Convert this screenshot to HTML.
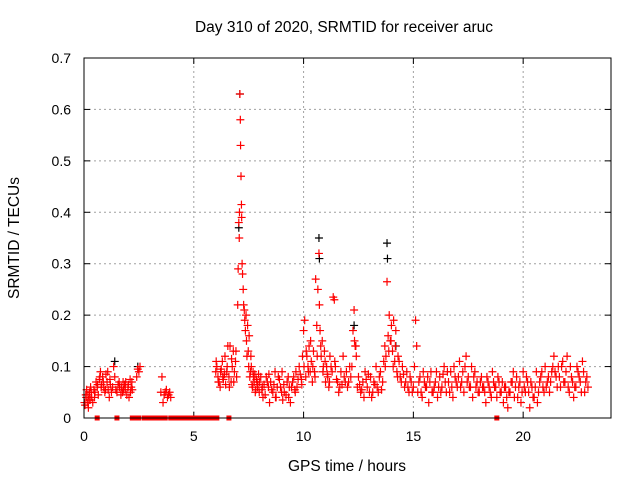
<!DOCTYPE html>
<html><head><meta charset="utf-8"><style>
body{margin:0;background:#fff;}
svg{display:block;font-family:"Liberation Sans",sans-serif;}
</style></head><body>
<svg id="chart" width="640" height="480" viewBox="0 0 640 480" xmlns="http://www.w3.org/2000/svg">
<rect width="640" height="480" fill="#fff"/>
<text x="344" y="32" font-size="15.5" text-anchor="middle">Day 310 of 2020, SRMTID for receiver aruc</text>
<text x="0" y="0" font-size="15.5" text-anchor="middle" transform="translate(19,238) rotate(-90)">SRMTID / TECUs</text>
<text x="347" y="471" font-size="15.5" text-anchor="middle">GPS time / hours</text>
<g id="grid"></g><g id="axes"></g><g id="marks"></g>
<rect x="84" y="58" width="527" height="360" fill="none" stroke="#000" stroke-width="1"/>
</svg>
<script>
const xTicks=[0,5,10,15,20];
const yTicks=[0,0.1,0.2,0.3,0.4,0.5,0.6,0.7];
const yTickLabels=["0","0.1","0.2","0.3","0.4","0.5","0.6","0.7"];
const redT=[0.02,0.05,0.1,0.12,0.15,0.18,0.2,0.25,0.28,0.3,0.35,0.4,0.45,0.5,0.55,0.6,0.65,0.7,0.75,0.8,0.85,0.9,0.95,1.0,1.05,1.1,1.15,1.2,1.3,1.35,1.4,1.45,1.5,1.55,1.6,1.7,1.75,1.8,1.85,1.9,1.95,2.0,2.05,2.1,2.15,2.2,
2.4,2.45,2.5,2.55,3.5,3.55,3.6,3.65,3.7,3.75,3.8,3.85,3.9,3.95,
6.0,6.05,6.1,6.15,6.2,6.25,6.3,6.35,6.4,6.45,6.5,6.55,6.6,6.65,6.7,6.75,6.8,6.85,6.9,6.95,
7.0,7.02,7.05,7.07,7.08,7.1,7.12,7.13,7.15,7.17,7.18,7.2,7.22,7.25,7.27,7.3,7.32,7.35,7.38,7.4,7.42,7.45,7.48,7.5,
7.55,7.6,7.65,7.7,7.75,7.8,7.85,7.9,7.95,8.0,8.1,8.15,8.2,8.3,8.4,8.45,8.5,8.6,8.7,8.75,8.8,8.9,9.0,9.05,9.1,9.2,9.3,9.35,9.4,9.5,9.6,9.65,9.7,9.8,9.9,9.95,
10.0,10.05,10.1,10.15,10.2,10.25,10.3,10.35,10.4,10.45,10.5,10.55,10.6,10.65,10.7,10.72,10.75,10.8,10.85,10.9,10.95,
11.0,11.05,11.1,11.15,11.2,11.3,11.35,11.4,11.45,11.5,11.6,11.7,11.75,11.8,11.9,12.0,12.1,12.15,
12.25,12.3,12.32,12.35,12.4,12.45,12.5,12.6,12.7,12.75,12.8,12.9,13.0,13.05,13.1,13.2,13.3,13.35,13.4,13.5,13.6,13.65,
13.7,13.75,13.8,13.85,13.9,13.95,14.0,14.05,14.1,14.15,14.2,14.25,14.3,14.4,14.5,14.6,14.7,14.8,14.9,15.0,15.05,15.1,15.15,
15.2,15.3,15.4,15.5,15.6,15.7,15.8,15.9,16.0,16.1,16.2,16.3,16.4,16.5,16.6,16.7,16.8,16.9,17.0,17.1,17.2,17.3,17.4,17.5,17.6,17.7,17.8,17.9,18.0,18.1,18.2,18.3,18.4,18.5,18.6,18.7,18.8,18.9,19.0,19.1,19.2,19.3,19.4,19.5,19.6,19.7,19.8,19.9,20.0,20.1,20.2,20.3,20.4,20.5,20.6,20.7,20.8,20.9,21.0,21.1,21.2,21.3,21.4,21.5,21.6,21.7,21.8,21.9,22.0,22.1,22.2,22.3,22.4,22.5,22.6,22.7,22.8,22.9];
const redV=[0.03,0.025,0.04,0.055,0.03,0.045,0.02,0.05,0.035,0.06,0.04,0.03,0.055,0.05,0.07,0.06,0.045,0.075,0.09,0.065,0.08,0.06,0.05,0.085,0.07,0.055,0.04,0.065,0.06,0.1,0.08,0.055,0.05,0.065,0.07,0.06,0.05,0.055,0.065,0.07,0.045,0.06,0.04,0.075,0.06,0.055,
0.08,0.095,0.09,0.1,0.05,0.08,0.03,0.045,0.05,0.055,0.04,0.045,0.05,0.04,
0.09,0.1,0.08,0.07,0.06,0.095,0.11,0.075,0.085,0.065,0.09,0.14,0.08,0.14,0.07,0.1,0.13,0.09,0.11,0.08,
0.22,0.29,0.38,0.35,0.4,0.63,0.58,0.53,0.47,0.415,0.39,0.3,0.28,0.25,0.22,0.21,0.19,0.17,0.2,0.15,0.12,0.18,0.13,0.1,
0.08,0.12,0.065,0.09,0.07,0.05,0.075,0.06,0.085,0.07,0.055,0.04,0.065,0.08,0.06,0.03,0.07,0.05,0.09,0.04,0.06,0.075,0.05,0.035,0.065,0.045,0.08,0.06,0.03,0.07,0.055,0.09,0.06,0.1,0.075,0.12,
0.17,0.19,0.08,0.12,0.1,0.14,0.09,0.11,0.07,0.13,0.09,0.27,0.18,0.25,0.32,0.22,0.17,0.12,0.15,0.1,0.13,
0.07,0.1,0.08,0.06,0.12,0.09,0.235,0.23,0.1,0.075,0.05,0.09,0.065,0.12,0.07,0.06,0.1,0.08,
0.17,0.21,0.15,0.14,0.12,0.06,0.08,0.05,0.07,0.04,0.09,0.06,0.05,0.08,0.04,0.07,0.1,0.06,0.05,0.09,0.07,0.11,
0.14,0.12,0.265,0.16,0.2,0.15,0.18,0.13,0.19,0.11,0.17,0.09,0.12,0.08,0.1,0.06,0.09,0.05,0.07,0.06,0.1,0.19,0.14,
0.05,0.08,0.04,0.07,0.06,0.03,0.09,0.05,0.07,0.04,0.08,0.06,0.1,0.05,0.07,0.09,0.04,0.08,0.06,0.11,0.07,0.05,0.12,0.08,0.06,0.04,0.09,0.07,0.05,0.08,0.06,0.03,0.07,0.05,0.09,0.06,0.04,0.07,0.05,0.03,0.06,0.02,0.05,0.07,0.04,0.08,0.06,0.03,0.09,0.05,0.07,0.02,0.06,0.04,0.09,0.05,0.08,0.06,0.1,0.07,0.05,0.09,0.12,0.08,0.1,0.06,0.11,0.07,0.12,0.05,0.08,0.04,0.06,0.09,0.07,0.11,0.05,0.08];
const red2T=[0.08,0.22,0.33,0.48,0.62,0.72,0.78,0.88,0.98,1.08,1.18,1.25,1.62,1.68,1.78,1.88,2.02,2.12,2.18,
6.02,6.12,6.22,6.32,6.42,6.52,6.62,6.72,6.82,6.92,
7.52,7.58,7.62,7.68,7.72,7.78,7.82,7.88,7.92,7.98,8.05,8.12,8.25,8.35,8.42,8.55,8.65,8.72,8.85,8.95,9.02,9.12,9.25,9.32,9.45,9.55,9.62,9.75,9.85,9.92,
10.02,10.12,10.22,10.32,10.42,10.52,10.62,10.78,10.88,10.98,11.08,11.18,11.25,11.42,11.55,11.65,11.85,11.95,12.05,12.2,12.38,12.55,12.65,12.85,12.95,13.15,13.25,13.45,13.55,
13.72,13.88,13.98,14.08,14.18,14.28,14.35,14.45,14.55,14.65,14.75,14.85,14.95,
15.25,15.35,15.45,15.55,15.65,15.75,15.85,15.95,16.05,16.15,16.25,16.35,16.45,16.55,16.65,16.75,16.85,16.95,17.05,17.15,17.25,17.35,17.45,17.55,17.65,17.75,17.85,17.95,18.05,18.15,18.25,18.35,18.45,18.55,18.65,18.75,18.85,18.95,19.05,19.15,19.25,19.35,19.45,19.55,19.65,19.75,19.85,19.95,20.05,20.15,20.25,20.35,20.45,20.55,20.65,20.75,20.85,20.95,21.05,21.15,21.25,21.35,21.45,21.55,21.65,21.75,21.85,21.95,22.05,22.15,22.25,22.35,22.45,22.55,22.65,22.75,22.85,22.95];
const red2V=[0.045,0.035,0.05,0.04,0.065,0.08,0.06,0.07,0.055,0.09,0.075,0.05,0.06,0.045,0.07,0.055,0.065,0.05,0.07,
0.11,0.07,0.09,0.08,0.12,0.1,0.06,0.115,0.07,0.13,
0.16,0.09,0.1,0.06,0.08,0.085,0.055,0.07,0.065,0.05,0.08,0.06,0.045,0.07,0.085,0.055,0.065,0.04,0.08,0.06,0.09,0.05,0.07,0.04,0.06,0.08,0.05,0.075,0.085,0.065,
0.1,0.13,0.09,0.15,0.1,0.08,0.12,0.14,0.09,0.11,0.085,0.07,0.1,0.11,0.07,0.06,0.08,0.09,0.07,0.1,0.14,0.065,0.055,0.075,0.085,0.05,0.065,0.08,0.055,
0.1,0.13,0.15,0.1,0.14,0.08,0.11,0.07,0.085,0.07,0.06,0.08,0.05,
0.07,0.05,0.09,0.06,0.08,0.07,0.05,0.06,0.09,0.06,0.05,0.085,0.07,0.09,0.05,0.06,0.1,0.07,0.08,0.06,0.09,0.1,0.07,0.06,0.1,0.08,0.06,0.05,0.07,0.06,0.05,0.08,0.06,0.04,0.07,0.06,0.08,0.05,0.07,0.06,0.04,0.05,0.07,0.09,0.06,0.04,0.07,0.05,0.06,0.08,0.05,0.07,0.04,0.06,0.03,0.07,0.09,0.05,0.06,0.08,0.07,0.1,0.09,0.06,0.08,0.1,0.07,0.09,0.06,0.1,0.07,0.06,0.1,0.08,0.05,0.09,0.07,0.06];
const blackT=[1.4,2.45,7.05,7.1,10.7,10.72,13.8,13.82,12.3,14.2];
const blackV=[0.11,0.1,0.37,0.63,0.35,0.31,0.34,0.31,0.18,0.14];
const zeroT=[0.6,1.5,2.2,2.3,2.4,2.5,2.75,2.85,2.95,3.05,3.15,3.25,3.35,3.45,3.6,3.7,3.95,4.05,4.15,4.25,4.35,4.45,4.55,4.65,4.75,4.85,4.95,5.05,5.15,5.25,5.35,5.45,5.55,5.65,5.75,5.85,5.95,6.05,6.6,18.8];

const NS="http://www.w3.org/2000/svg";
const X0=84,X1=611,Y0=418,Y1=58,XMAX=24,YMAX=0.7;
function xs(t){return X0+(t/XMAX)*(X1-X0);}
function ys(v){return Y0-(v/YMAX)*(Y0-Y1);}
function mk(tag,attrs,parent){const e=document.createElementNS(NS,tag);for(const k in attrs)e.setAttribute(k,attrs[k]);parent.appendChild(e);return e;}
const grid=document.getElementById('grid'),axes=document.getElementById('axes'),marks=document.getElementById('marks');
xTicks.forEach(t=>{
  const x=xs(t);
  if(t>0){const g=mk('line',{x1:x,y1:Y0,x2:x,y2:Y1,stroke:'#a0a0a0','stroke-dasharray':'2,3','stroke-width':1},grid);
  
  }
  mk('line',{x1:x,y1:Y0,x2:x,y2:Y0-6,stroke:'#000'},axes);
  mk('line',{x1:x,y1:Y1,x2:x,y2:Y1+6,stroke:'#000'},axes);
  const l=mk('text',{x:x,y:Y0+23,'font-size':14,'text-anchor':'middle'},axes);l.textContent=String(t);
  
  
});
yTicks.forEach((v,i)=>{
  const y=ys(v);
  if(v>0&&v<YMAX){const g=mk('line',{x1:X0,y1:y,x2:X1,y2:y,stroke:'#a0a0a0','stroke-dasharray':'2,3','stroke-width':1},grid);
  
  }
  mk('line',{x1:X0,y1:y,x2:X0+6,y2:y,stroke:'#000'},axes);
  mk('line',{x1:X1,y1:y,x2:X1-6,y2:y,stroke:'#000'},axes);
  const l=mk('text',{x:X0-13,y:y+5,'font-size':14,'text-anchor':'end'},axes);l.textContent=yTickLabels[i];
  
  
});
function plus(t,v,col,name){
  const x=xs(t),y=ys(v);
  const p=mk('path',{d:`M${x-4} ${y}H${x+4}M${x} ${y-4}V${y+4}`,stroke:col,'stroke-width':1.2,fill:'none'},marks);
  
  
}
blackT.forEach((t,i)=>plus(t,blackV[i],'#000','black-point'));
redT.forEach((t,i)=>plus(t,redV[i],'#f00','red-point'));
red2T.forEach((t,i)=>plus(t,red2V[i],'#f00','red-point'));
zeroT.forEach(t=>{
  const r=mk('rect',{x:xs(t)-2.5,y:Y0-2.5,width:5,height:5,fill:'#f00'},marks);
  
  
});
</script>
</body></html>
